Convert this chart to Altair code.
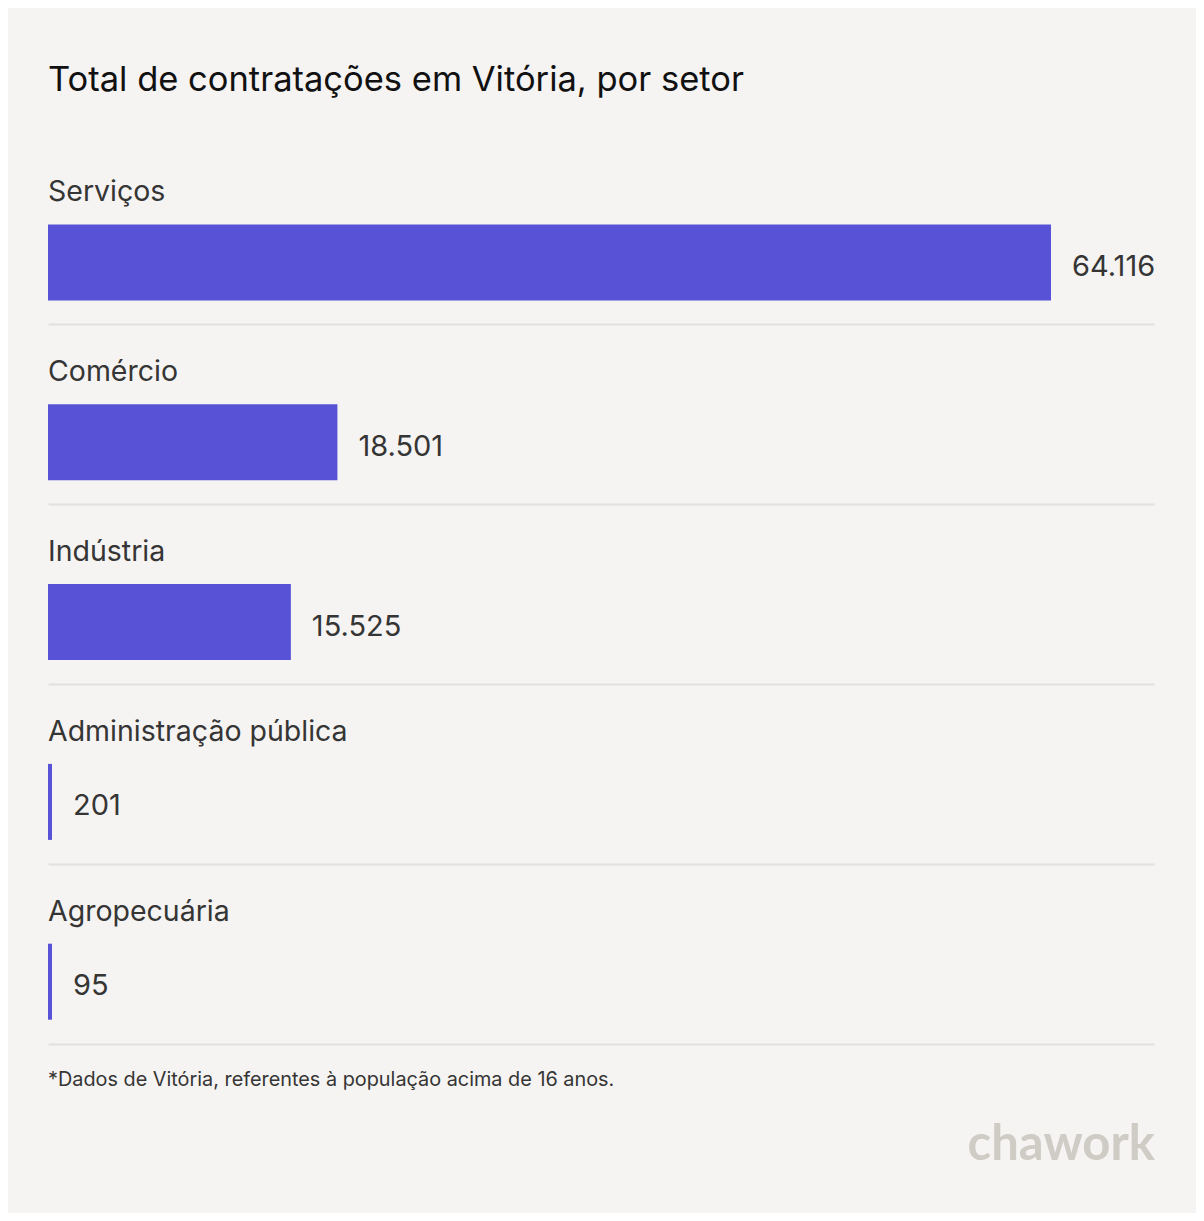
import altair as alt
import pandas as pd

titulo = "Total de contratações em Vitória, por setor"
setores = ["Serviços", "Comércio", "Indústria", "Administração pública", "Agropecuária"]
valores = [64116, 18501, 15525, 201, 95]
rotulos = ["64.116", "18.501", "15.525", "201", "95"]
nota = "*Dados de Vitória, referentes à população acima de 16 anos."
marca = "chawork"

df = pd.DataFrame({"setor": setores, "valor": valores, "rotulo": rotulos})

W = 1106
ROW = 179.8
H = 5 * ROW
BARW = 1003
xmax = max(valores) * W / BARW
minval = xmax * 4 / W

FONT = "Inter"
TXT = "#353535"
BAR = "#5752d6"
BG = "#f5f4f2"

base = alt.Chart(df).transform_calculate(shown=f"max(datum.valor, {minval})")

y = alt.Y(
    "setor:N",
    sort=setores,
    scale=alt.Scale(paddingInner=0, paddingOuter=0),
    axis=alt.Axis(title=None, labels=False, ticks=False, domain=False, grid=True,
                  bandPosition=1, gridColor="#e2e0dd", gridWidth=2),
)
x = alt.X("shown:Q", scale=alt.Scale(domain=[0, xmax], nice=False, zero=True), axis=None)

bars = base.mark_bar(height=76, yOffset=27.6, color=BAR).encode(x=x, y=y)

cat = base.mark_text(align="left", baseline="alphabetic", yOffset=-33.5, fontSize=28.5,
                     font=FONT, color=TXT).encode(x=alt.value(0), y=y, text="setor:N")

vals = base.mark_text(align="left", baseline="alphabetic", dx=21, yOffset=41, fontSize=29,
                      font=FONT, color=TXT).encode(x=x, y=y, text="rotulo:N")

tdf = pd.DataFrame({"t": [titulo]})
title = alt.Chart(tdf).mark_text(align="left", baseline="alphabetic", fontSize=34.5,
                                 font=FONT, color="#111111").encode(
    x=alt.value(0), y=alt.value(-54), text="t:N")

fdf = pd.DataFrame({"t": [nota]})
foot = alt.Chart(fdf).mark_text(align="left", baseline="alphabetic", fontSize=19.85,
                                font=FONT, color=TXT).encode(
    x=alt.value(0), y=alt.value(941), text="t:N")

ldf = pd.DataFrame({"t": [marca]})
logo = alt.Chart(ldf).mark_text(align="right", baseline="alphabetic", fontSize=49,
                                font="Lato", fontWeight="bold", color="#cfccc6").encode(
    x=alt.value(W + 1), y=alt.value(1160 - 145), text="t:N")

chart = alt.layer(bars, cat, vals, title, foot, logo).properties(
    width=W,
    height=H,
    padding={"left": 40, "top": 137, "right": 42, "bottom": 1205 - 137 - H},
    autosize="none",
    background=BG,
).configure_view(stroke=None)

chart.save("out.html", embed_options={"renderer": "svg", "actions": False})
